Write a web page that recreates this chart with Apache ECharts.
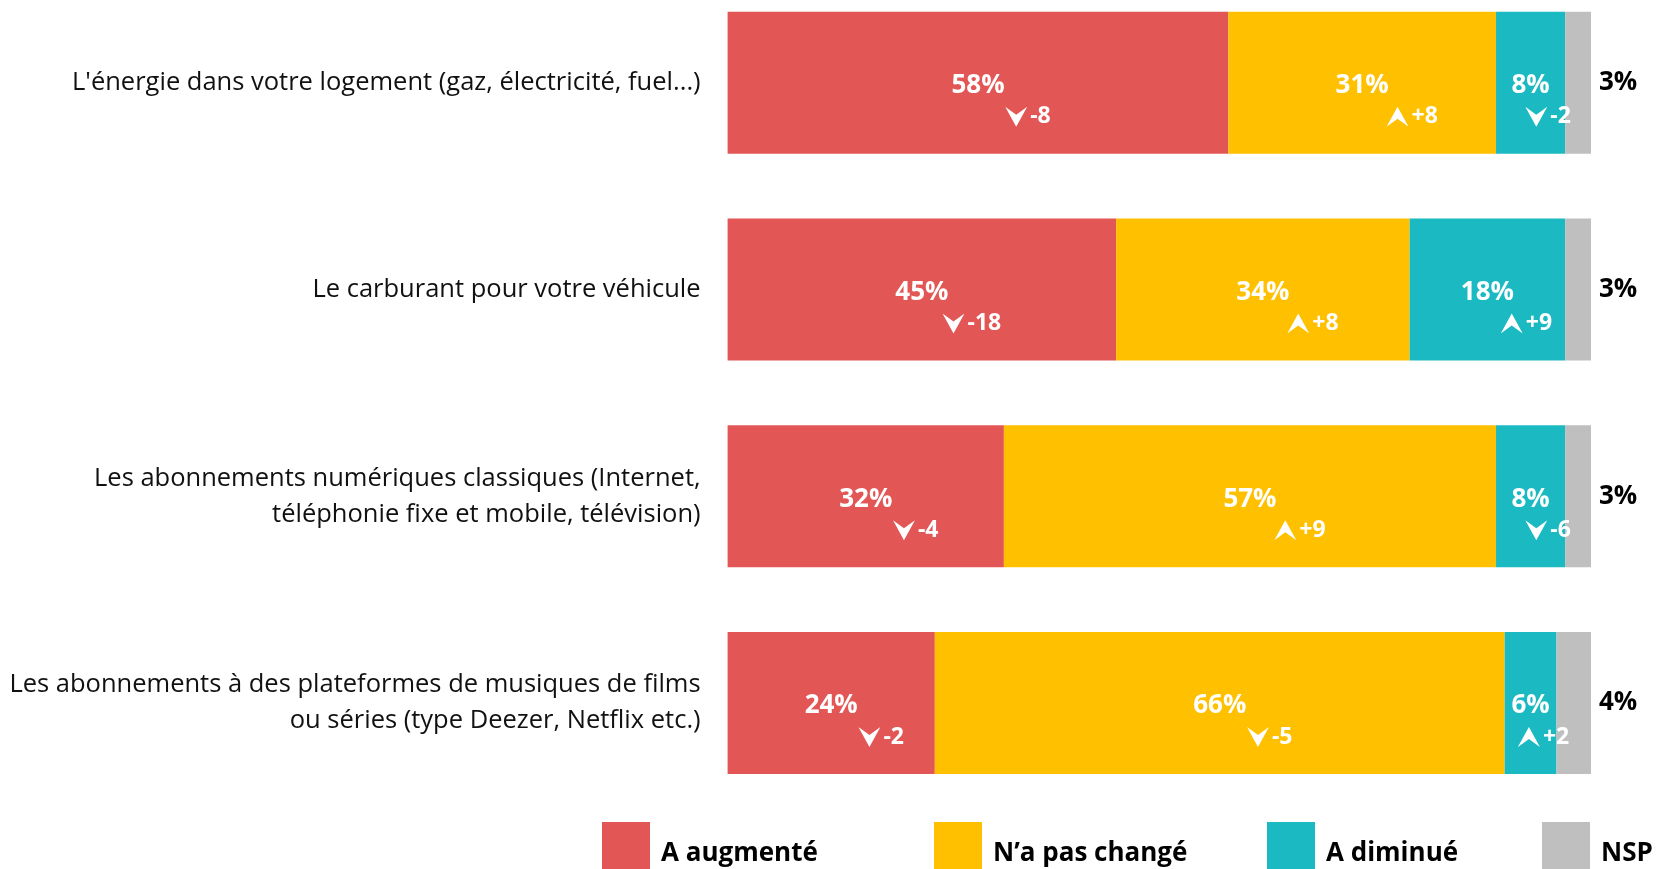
<!DOCTYPE html>
<html>
<head>
<meta charset="utf-8">
<script src="https://cdn.jsdelivr.net/npm/echarts@6/dist/echarts.min.js"></script>
<style>
  html, body { margin: 0; padding: 0; background: #fff; }
  #chart { width: 1663px; height: 869px; }
</style>
</head>
<body>
<div id="chart"></div>
<script>
// données
var categories = [
  "L'énergie dans votre logement (gaz, électricité, fuel...)",
  'Le carburant pour votre véhicule',
  'Les abonnements numériques classiques (Internet,\ntéléphonie fixe et mobile, télévision)',
  'Les abonnements à des plateformes de musiques de films\nou séries (type Deezer, Netflix etc.)'
];
var augmente = [58, 45, 32, 24];
var inchange = [31, 34, 57, 66];
var diminue = [8, 18, 8, 6];
var nsp = [3, 3, 3, 4];
// évolutions
var deltaAugmente = [-8, -18, -4, -2];
var deltaInchange = [8, 8, 9, -5];
var deltaDiminue = [-2, 9, -6, 2];

var FONT = '"Open Sans", "Noto Sans", sans-serif';
var PX_PER_PCT = 8.634;

// flèches (svg)
function arrowUrl(up) {
  var pts = up ? '0,20 11,12 22,20 11,0' : '0,0 11,8 22,0 11,20';
  var svg = '<svg xmlns="http://www.w3.org/2000/svg" width="22" height="20" viewBox="0 0 22 20">' +
    '<polygon points="' + pts + '" fill="#ffffff"/></svg>';
  return 'data:image/svg+xml;charset=utf-8,' + encodeURIComponent(svg);
}
var upImg = arrowUrl(true);
var downImg = arrowUrl(false);

function segLabel(deltas) {
  return {
    show: true,
    position: 'inside',
    offset: [0, 18.5],
    formatter: function (p) {
      var d = deltas[p.dataIndex];
      var shift = Math.min(50, p.value * PX_PER_PCT * 0.25);
      var arrow = d > 0 ? 'up' : 'down';
      var txt = d > 0 ? '+' + d : '' + d;
      return '{p|' + p.value + '%}\n{s' + Math.round(shift * 2) + '|}{' + arrow + '|}{d|' + txt + '}';
    },
    rich: buildRich()
  };
}

function buildRich() {
  var r = {
    p: { color: '#fff', fontSize: 26, fontWeight: 'bold', fontFamily: FONT, lineHeight: 31, align: 'center' },
    d: { color: '#fff', fontSize: 23, fontWeight: 'bold', fontFamily: FONT, lineHeight: 31, padding: [0, 0, 0, 3], align: 'center' },
    up: { width: 22, height: 20, backgroundColor: { image: upImg }, lineHeight: 31, align: 'center' },
    down: { width: 22, height: 20, backgroundColor: { image: downImg }, lineHeight: 31, align: 'center' }
  };
  for (var i = 0; i <= 100; i++) {
    r['s' + i] = { width: i, height: 1, lineHeight: 31, align: 'center' };
  }
  return r;
}

var chart = echarts.init(document.getElementById('chart'));

var legendBase = {
  top: 817,
  itemWidth: 48,
  itemHeight: 64,
  icon: 'rect',
  textStyle: { fontSize: 26, fontWeight: 'bold', color: '#000', fontFamily: FONT, padding: [0, 0, 0, 6] }
};

var option = {
  animation: false,
  legend: [
    Object.assign({ left: 597, data: ['A augmenté'] }, legendBase),
    Object.assign({ left: 929, data: ['N’a pas changé'] }, legendBase),
    Object.assign({ left: 1262, data: ['A diminué'] }, legendBase),
    Object.assign({ left: 1537, data: ['NSP'] }, legendBase)
  ],
  grid: { left: 727.6, right: 72, top: -20.6, bottom: 62.6, outerBoundsMode: 'none' },
  xAxis: { type: 'value', min: 0, max: 100, show: false },
  yAxis: {
    type: 'category',
    data: categories,
    inverse: true,
    axisLine: { show: false },
    axisTick: { show: false },
    axisLabel: {
      margin: 27,
      fontSize: 25.5,
      lineHeight: 36,
      color: '#111',
      fontFamily: FONT,
      align: 'right'
    }
  },
  series: [
    {
      name: 'A augmenté', type: 'bar', stack: 'total', barWidth: 142,
      itemStyle: { color: '#E35656' },
      label: segLabel(deltaAugmente),
      data: augmente
    },
    {
      name: 'N’a pas changé', type: 'bar', stack: 'total', barWidth: 142,
      itemStyle: { color: '#FFC000' },
      label: segLabel(deltaInchange),
      data: inchange
    },
    {
      name: 'A diminué', type: 'bar', stack: 'total', barWidth: 142,
      itemStyle: { color: '#1BBAC3' },
      label: segLabel(deltaDiminue),
      data: diminue
    },
    {
      name: 'NSP', type: 'bar', stack: 'total', barWidth: 142,
      itemStyle: { color: '#BFBFBF' },
      label: {
        show: true, position: 'right', distance: 8,
        formatter: '{c}%',
        color: '#000', fontSize: 26, fontWeight: 'bold', fontFamily: FONT
      },
      data: nsp
    }
  ]
};

chart.setOption(option);
</script>
</body>
</html>
